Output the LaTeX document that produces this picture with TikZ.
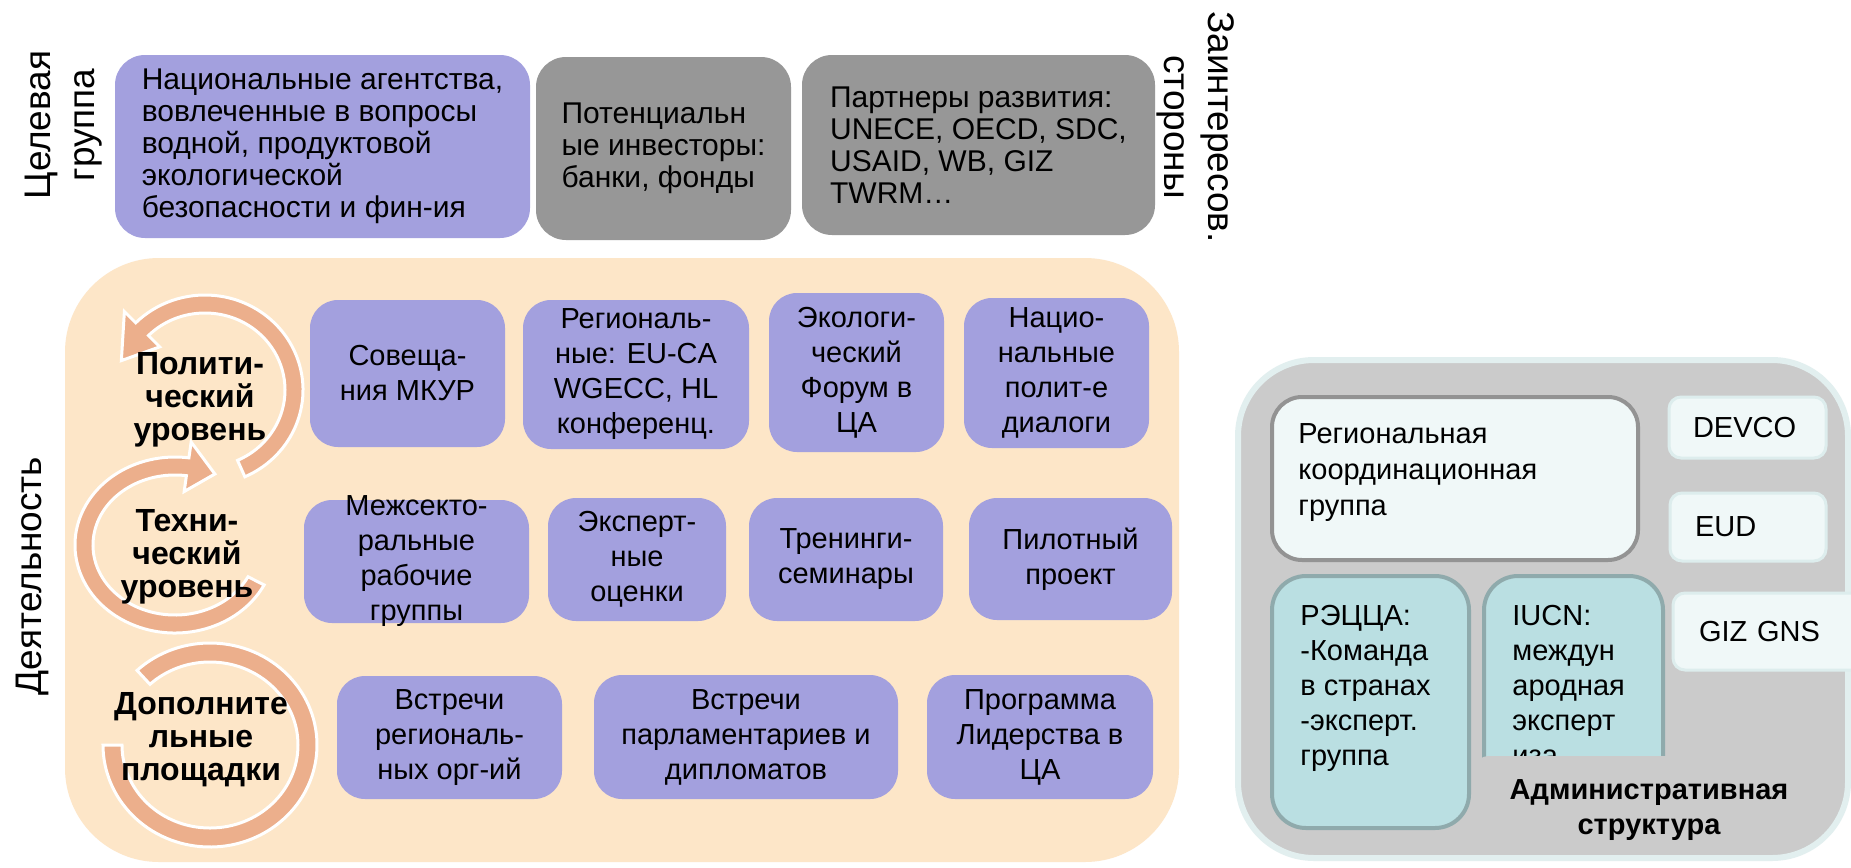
\documentclass[tikz,border=0pt]{standalone}
\usepackage{fontspec}
\setmainfont{Liberation Sans}

\definecolor{peach}{HTML}{FDE6C8}
\definecolor{lavender}{HTML}{A3A0DE}
\definecolor{stonegrey}{HTML}{979797}
\definecolor{ringorange}{HTML}{ECAF8C}
\definecolor{admgrey}{HTML}{CBCBCB}
\definecolor{admedge}{HTML}{E2EFEF}
\definecolor{paleteal}{HTML}{F0F8F8}
\definecolor{tagedge}{HTML}{DDEDED}
\definecolor{softteal}{HTML}{BADFE2}
\definecolor{tealedge}{HTML}{8FAAAC}

\begin{document}
\begin{tikzpicture}[
		x=0.5pt, y=-0.5pt,
		every node/.style={inner sep=0pt, font=\fontsize{14.5}{17.5}\selectfont},
		boxdim/.style 2 args={minimum width=#1*0.5pt, minimum height=#2*0.5pt},
		topbox/.style={rounded corners=15pt, align=left, font=\fontsize{15}{16}\selectfont},
		actbox/.style={rounded corners=14pt, fill=lavender, align=center},
		sidelabel/.style={align=center, font=\fontsize{18.5}{22}\selectfont},
		levellabel/.style={align=center, font=\fontsize{16}{16.5}\selectfont\bfseries},
		ring/.style={fill=ringorange, draw=white, line width=1.5pt},
		regbox/.style={rounded corners=15pt, fill=paleteal, draw=gray!85, line width=2pt},
		tealbox/.style={rounded corners=17pt, fill=softteal, draw=tealedge, line width=2pt},
		tagbox/.style={rounded corners=6pt, fill=paleteal, draw=tagedge, line width=1.5pt, align=left},
		admtext/.style={anchor=north west, align=left}
		]
		\fill[white] (0,0) rectangle (1851,867);
		\useasboundingbox (0,0) rectangle (1851,867);
		
		\node[sidelabel, rotate=90] (target) at (64,125) {Целевая\\группа};
		\node[topbox, fill=lavender, boxdim={415}{183}] (agencies) at (322.5,146.5) {Национальные агентства,\\вовлеченные в вопросы\\водной, продуктовой\\экологической\\безопасности и фин-ия};
		\node[topbox, fill=stonegrey, boxdim={255}{183}] (investors) at (663.5,148.5) {Потенциальн\\ые инвесторы:\\банки, фонды};
		\node[topbox, fill=stonegrey, boxdim={353}{180}] (partners) at (978.5,145) {Партнеры развития:\\UNECE, OECD, SDC,\\USAID, WB, GIZ\\TWRM…};
		\node[sidelabel, rotate=-90] (stake) at (1196,127) {Заинтересов.\\стороны};
		
		\node[sidelabel, rotate=90] (activity) at (32,576) {Деятельность};
		\node[fill=peach, rounded corners=47pt, boxdim={1114}{604}] (actpanel) at (622,560) {};
		
		\begin{scope}[shift={(205,390)}]
			\filldraw[ring] (66:98 and 95) arc[start angle=66, end angle=-135, x radius=98, y radius=95]
			-- (-135:114 and 111) -- (-160:89 and 86) -- (-135:64 and 61) -- (-135:80 and 77)
			arc[start angle=-135, end angle=66, x radius=80, y radius=77] -- cycle;
		\end{scope}
		\begin{scope}[shift={(175,545)}]
			\filldraw[ring] (27:100 and 88) arc[start angle=27, end angle=278, x radius=100, y radius=88]
			-- (278:116 and 104) -- (296:91 and 79) -- (278:66 and 54) -- (278:82 and 70)
			arc[start angle=278, end angle=27, x radius=82, y radius=70] -- cycle;
		\end{scope}
		\begin{scope}[shift={(210,745)}]
			\filldraw[ring] (-133:107 and 102) arc[start angle=-133, end angle=180, x radius=107, y radius=102]
			-- (180:88 and 83) arc[start angle=180, end angle=-133, x radius=88, y radius=83] -- cycle;
		\end{scope}
		
		\node[levellabel] (polit) at (200,400) {Полити-\\ческий\\уровень};
		\node[levellabel] (tech) at (187,557) {Техни-\\ческий\\уровень};
		\node[levellabel] (extra) at (201,740) {Дополните\\льные\\площадки};
		
		\node[actbox, boxdim={195}{147}] (meetings) at (407.5,373.5) {Совеща-\\ния МКУР};
		\node[actbox, boxdim={226}{149}] (regconf) at (636,374.5) {Региональ-\\ные: EU-CA\\WGECC, HL\\конференц.};
		\node[actbox, boxdim={175}{159}] (ecoforum) at (856.5,372.5) {Экологи-\\ческий\\Форум в\\ЦА};
		\node[actbox, boxdim={185}{150}] (natdialog) at (1056.5,373) {Нацио-\\нальные\\полит-е\\диалоги};
		
		\node[actbox, boxdim={225}{123}, label={[align=center]center:{Межсекто-\\ральные\\рабочие\\группы}}] (intersect) at (416.5,561.5) {};
		\node[actbox, boxdim={178}{123}] (expert) at (637,559.5) {Эксперт-\\ные\\оценки};
		\node[actbox, boxdim={194}{123}] (training) at (846,559.5) {Тренинги-\\семинары};
		\node[actbox, boxdim={203}{122}] (pilot) at (1070.5,559) {Пилотный\\проект};
		
		\node[actbox, boxdim={225}{123}] (regorg) at (449.5,737.5) {Встречи\\региональ-\\ных орг-ий};
		\node[actbox, boxdim={304}{124}] (parliament) at (746,737) {Встречи\\парламентариев и\\дипломатов};
		\node[actbox, boxdim={226}{124}] (leadership) at (1040,737) {Программа\\Лидерства в\\ЦА};
		
		\node[fill=admgrey, draw=admedge, line width=3pt, rounded corners=38pt, boxdim={610}{498}] (admpanel) at (1543,609) {};
		\node[regbox, boxdim={366}{163}] (regcoord) at (1455,478.5) {};
		\node[admtext, font=\fontsize{14.5}{18}\selectfont] (regcoordtxt) at (1298,423) {Региональная\\координационная\\группа};
		\node[tagbox, inner xsep=12pt, text width=54.5pt, minimum height=30.5pt] (devco) at (1747.5,427.5) {DEVCO};
		\node[tagbox, inner xsep=12.5pt, text width=53pt, minimum height=34pt] (eud) at (1748,527) {EUD};
		\node[tagbox, inner xsep=13pt, text width=81pt, minimum height=38.5pt] (giz) at (1780,631.5) {GIZ GNS};
		\node[tealbox, boxdim={197}{252}] (carec) at (1370.5,702) {};
		\node[admtext] (carectxt) at (1300,605) {РЭЦЦА:\\-Команда\\в странах\\-эксперт.\\группа};
		\node[tealbox, boxdim={179}{252}] (iucn) at (1573.5,702) {};
		\node[admtext] (iucntxt) at (1512,605) {IUCN:\\междун\\ародная\\эксперт\\иза};
		\node[fill=admgrey, rounded corners=6pt, boxdim={294}{96}] (cover) at (1623,804) {};
		\node[align=center, font=\fontsize{14.5}{17.5}\selectfont\bfseries] (admlabel) at (1649,810) {Административная\\структура};
		
		\end{tikzpicture}
\end{document}
